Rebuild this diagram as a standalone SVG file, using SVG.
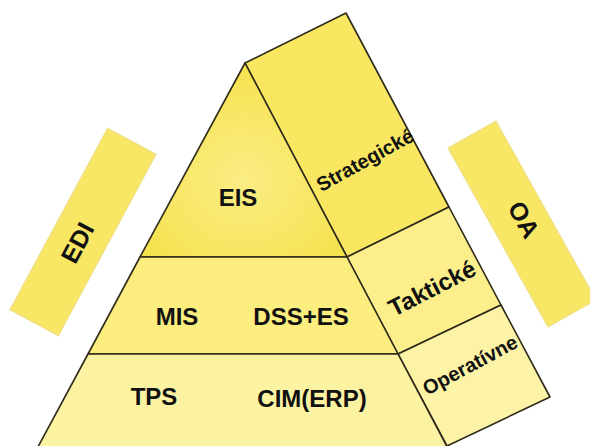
<svg xmlns="http://www.w3.org/2000/svg" width="590" height="446" viewBox="0 0 590 446">
<style>
.edge{stroke:#2e2a1a;stroke-width:1.6;stroke-linejoin:round}
.side{fill:#f8e665;stroke:#efe08a;stroke-width:1.2}
.t{font-family:"Liberation Sans",Arial,sans-serif;font-weight:bold;fill:#111;text-anchor:middle;dominant-baseline:central}
</style>
<defs>
<radialGradient id="gTop" cx="0.5" cy="0.6" r="0.6">
<stop offset="0" stop-color="#faed85"/>
<stop offset="1" stop-color="#f6e24e"/>
</radialGradient>
</defs>
<rect width="590" height="446" fill="#ffffff"/>
<g id="edi">
<g transform="translate(83,232) rotate(-61.7)">
<rect class="side" x="-103" y="-27.5" width="206" height="55"/>
<text class="t" x="-12" y="0" font-size="25">EDI</text>
</g>
</g>
<g id="oa">
<g transform="translate(522,224) rotate(60.8)">
<rect class="side" x="-102.5" y="-27.5" width="205" height="55"/>
<text class="t" x="-3" y="-4" font-size="25">OA</text>
</g>
</g>
<g id="strategicke">
<polygon class="edge" fill="#f9e762" points="245,63 346,13 449,207 347,257"/>
<text class="t" font-size="20" font-weight="600" transform="translate(365,160) rotate(-29)">Strategické</text>
</g>
<g id="takticke">
<polygon class="edge" fill="#fcef8b" points="347,257 449,207 501,305 398,354"/>
<text class="t" font-size="24" transform="translate(432,288) rotate(-27)">Taktické</text>
</g>
<g id="operativne">
<polygon class="edge" fill="#fcf3a6" points="398,354 501,305 550,397 447,446"/>
<text class="t" font-size="20" font-weight="600" transform="translate(470,365) rotate(-28)">Operatívne</text>
</g>
<g id="eis">
<polygon class="edge" fill="url(#gTop)" points="245,63 347,257 140,257"/>
<text class="t" x="238" y="197" font-size="24">EIS</text>
</g>
<g id="mis">
<polygon class="edge" fill="#fbed7e" points="140,257 347,257 398,354 88,354"/>
<text class="t" x="177" y="316" font-size="24">MIS</text>
<text class="t" x="301" y="316" font-size="24">DSS+ES</text>
</g>
<g id="tps">
<polygon class="edge" fill="#fcf3a2" points="88,354 398,354 453,458 32,458"/>
<text class="t" x="154" y="396" font-size="24">TPS</text>
<text class="t" x="312" y="398" font-size="24">CIM(ERP)</text>
</g>
</svg>
